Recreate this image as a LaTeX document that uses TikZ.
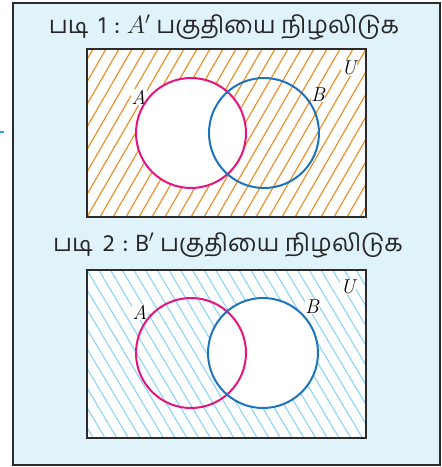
\documentclass[tikz,border=0pt]{standalone}
\usepackage{fontspec}
\newfontfamily\tamil[Script=Tamil]{Hind Madurai}
\definecolor{panel}{HTML}{E0F2FA}
\definecolor{frame}{HTML}{2B2B2B}
\definecolor{hatchO}{HTML}{F08A1E}
\definecolor{hatchB}{HTML}{8DD5F5}
\definecolor{setA}{HTML}{E6147D}
\definecolor{setB}{HTML}{1C75BC}
\definecolor{tick}{HTML}{29ABE2}
\tikzset{
  setcircle/.style={circle, draw, line width=2pt, minimum size=110pt, inner sep=0pt},
  universe/.style={draw=frame, line width=2.6pt},
  setlabel/.style={font=\itshape\fontsize{20}{20}\selectfont, fill=white, inner sep=0.6pt},
  title/.style={font=\tamil\fontsize{24}{28}\selectfont, text=black!85},
  hatchline/.style={line width=1.1pt}
}
\begin{document}
\begin{tikzpicture}[x=1pt,y=-1pt]
\useasboundingbox (0,0) rectangle (442,467);
% outer panel
\draw[fill=panel, draw=frame, line width=2pt] (13,3) rectangle (440,465);
\coordinate (t0) at (0,132);
\coordinate (t1) at (4,132);
\draw[tick, line width=1.5pt] (t0) -- (t1);

% ---------- Step 1 ----------
\node[title] (title1) at (224,27) {படி\ \kern4pt1\kern8pt:\kern7pt$A'$ பகுதியை நிழலிடுக};
\coordinate (u1a) at (87,49);
\coordinate (u1b) at (366,217);
\fill[white] (u1a) rectangle (u1b);
\begin{scope}
  \clip (u1a) rectangle (u1b);
  \foreach \x in {-30,-17,...,380}
    \draw[hatchO, hatchline] (\x,217) -- ({\x+97},49);
\end{scope}
\fill[white] (191,133) circle (55);
\node[setlabel] (lA1) at (139,97) {A};
\node[setlabel] (lB1) at (318,95) {B};
\node[setlabel] (lU1) at (349,68) {U};
\node[setcircle, draw=setA] (A1) at (191,133) {};
\node[setcircle, draw=setB] (B1) at (264,133) {};
\draw[universe] (u1a) rectangle (u1b);

% ---------- Step 2 ----------
\node[title] (title2) at (228,245) {படி\ \kern4pt2\kern8pt:\kern7pt B$'$ பகுதியை நிழலிடுக};
\coordinate (u2a) at (87,270);
\coordinate (u2b) at (366,438);
\fill[white] (u2a) rectangle (u2b);
\begin{scope}
  \clip (u2a) rectangle (u2b);
  \foreach \x in {-30,-18.3,...,470}
    \draw[hatchB, hatchline] (\x,270) -- ({\x+100},438);
\end{scope}
\fill[white] (263,353) circle (55);
\node[setlabel] (lA2) at (140,312) {A};
\node[setlabel] (lB2) at (312,307) {B};
\node[setlabel] (lU2) at (348,287) {U};
\node[setcircle, draw=setA] (A2) at (191,353) {};
\node[setcircle, draw=setB] (B2) at (263,353) {};
\draw[universe] (u2a) rectangle (u2b);
\end{tikzpicture}
\end{document}
